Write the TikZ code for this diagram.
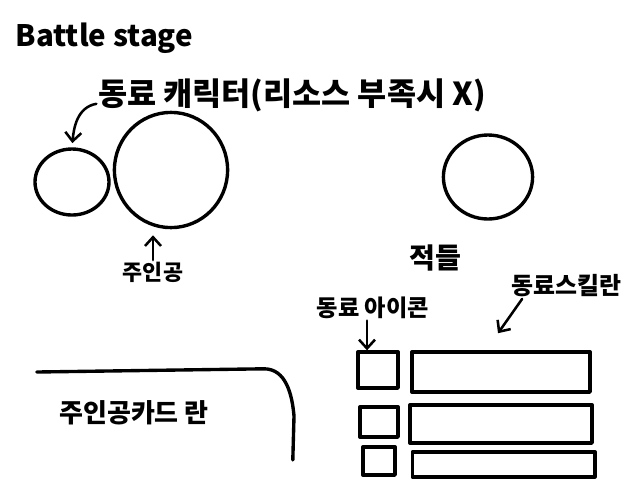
\documentclass[tikz,border=0pt]{standalone}
\usepackage{fontspec}
\setmainfont{Noto Sans CJK KR}
\usepackage{tikz}
\usetikzlibrary{arrows.meta, positioning, shapes.geometric, calc}

\begin{document}
\begin{tikzpicture}[
  pen/.style = {line width=2.4pt, line cap=round, line join=round},
  blob/.style = {ellipse, draw, pen, inner sep=0pt},
  slot/.style = {rectangle, draw, pen, inner sep=0pt},
  arrow/.style = {pen, line width=1.8pt, -{Straight Barb[length=2.2mm, width=4mm]}},
  label/.style = {inner sep=1pt}
]

% Page frame (640x480 px at 40 px per cm)
\useasboundingbox (0,0) rectangle (16,-12);

% Title
\node[label, anchor=west, font=\fontsize{21}{23}\selectfont\bfseries] (title) at (0.35,-0.95) {Battle stage};

% Companion and hero on the left
\node[blob, minimum width=1.85cm, minimum height=1.65cm] (comp) at (1.8,-4.55) {};
\node[blob, minimum width=2.83cm, minimum height=2.88cm] (hero) at (4.275,-4.25) {};
\node[label, font=\fontsize{22.5}{25}\selectfont\bfseries] (ally) at (7.3,-2.375) {동료 캐릭터(리소스 부족시 X)};
\draw[arrow, shorten >=3pt] ([yshift=-0.22cm]ally.west) to[out=190, in=85] (comp.north);

\node[label, font=\fontsize{15.5}{17}\selectfont\bfseries] (herolbl) at (3.825,-6.8) {주인공};
\draw[arrow] (herolbl.north) -- ($(herolbl.north |- hero.south)+(0,-0.15)$);

% Enemy
\node[blob, minimum width=2.23cm, minimum height=2.1cm] (enemy) at (12.2,-4.425) {};
\node[label, font=\fontsize{20}{22}\selectfont\bfseries] (enemylbl) at (10.875,-6.45) {적들};

% Companion icons and skill bars
\node[label, font=\fontsize{16.5}{18}\selectfont\bfseries] (iconlbl) at (9.325,-7.7) {동료 아이콘};
\node[label, font=\fontsize{17}{19}\selectfont\bfseries] (skilllbl) at (14.17,-7.15) {동료스킬란};

\node[slot, minimum width=1.0cm, minimum height=0.9cm] (icon1) at (9.45,-9.25) {};
\node[slot, minimum width=0.95cm, minimum height=0.75cm] (icon2) at (9.475,-10.55) {};
\node[slot, minimum width=0.8cm, minimum height=0.7cm] (icon3) at (9.475,-11.525) {};

\node[slot, minimum width=4.45cm, minimum height=1.0cm] (bar1) at (12.525,-9.3) {};
\node[slot, minimum width=4.55cm, minimum height=0.95cm] (bar2) at (12.525,-10.6) {};
\node[slot, minimum width=4.57cm, minimum height=0.62cm] (bar3) at (12.59,-11.61) {};

\draw[arrow] ([xshift=-0.15cm]iconlbl.south) -- ([xshift=-0.15cm]iconlbl.south |- icon1.north);
\coordinate (skilltip) at (12.45,-8.33);
\draw[arrow] ([xshift=0.3cm]skilllbl.south west) -- (skilltip);

% Hero card area
\draw[pen] (0.92,-9.3) -- (6.6,-9.22) to[out=0, in=95] (7.35,-10.4) -- (7.32,-11.5);
\node[label, font=\fontsize{18.5}{20}\selectfont\bfseries] (cardlbl) at (3.35,-10.33) {주인공카드 란};

\end{tikzpicture}
\end{document}
